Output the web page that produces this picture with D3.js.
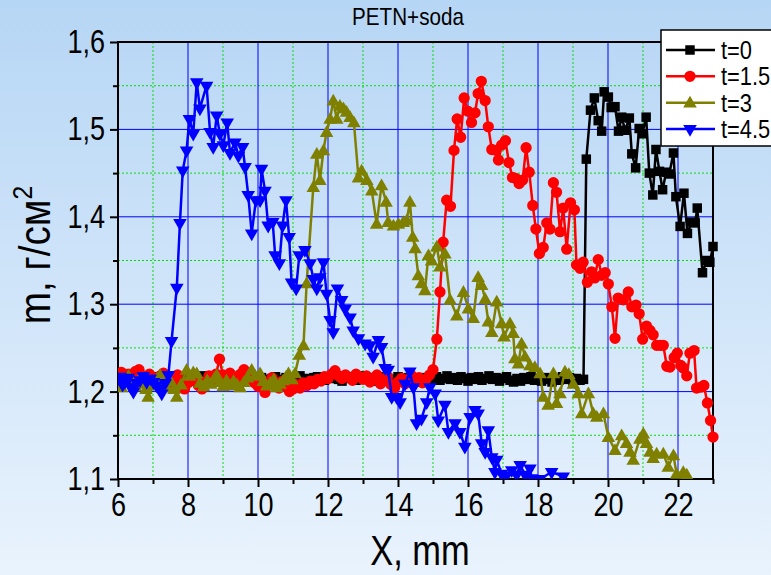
<!DOCTYPE html>
<html>
<head>
<meta charset="utf-8">
<script src="https://cdn.jsdelivr.net/npm/d3@7"></script>
<style>
  html, body { margin: 0; padding: 0; }
  svg { display: block; }
  text { font-family: "Liberation Sans", Arial, sans-serif; }
</style>
</head>
<body>
<svg id="chart" width="771" height="575"></svg>
<script>
// Density profiles m(X) for PETN+soda at successive times
const seriesNames = ["t=0", "t=1.5", "t=3", "t=4.5"];

const t0Points = [
  [6.0,1.215],[6.1,1.217],[6.2,1.213],[6.3,1.216],[6.4,1.214],[6.5,1.218],[6.6,1.215],[6.7,1.212],[6.8,1.216],[6.9,1.214],
  [7.0,1.217],[7.1,1.213],[7.2,1.215],[7.3,1.218],[7.4,1.214],[7.5,1.212],[7.6,1.216],[7.7,1.215],[7.8,1.213],[7.9,1.217],
  [8.0,1.214],[8.1,1.216],[8.2,1.212],[8.3,1.215],[8.4,1.218],[8.5,1.214],[8.6,1.213],[8.7,1.216],[8.8,1.215],[8.9,1.212],
  [9.0,1.216],[9.1,1.214],[9.2,1.217],[9.3,1.213],[9.4,1.215],[9.5,1.216],[9.6,1.212],[9.7,1.214],[9.8,1.217],[9.9,1.215],
  [10.0,1.213],[10.1,1.216],[10.2,1.214],[10.3,1.211],[10.4,1.215],[10.5,1.217],[10.6,1.214],[10.7,1.212],[10.8,1.216],[10.9,1.215],
  [11.0,1.213],[11.1,1.216],[11.2,1.218],[11.3,1.214],[11.4,1.215],[11.5,1.212],[11.6,1.216],[11.7,1.217],[11.8,1.214],[11.9,1.213],
  [12.0,1.216],[12.1,1.215],[12.2,1.218],[12.3,1.214],[12.4,1.212],[12.5,1.216],[12.6,1.215],[12.7,1.217],[12.8,1.213],[12.9,1.215],
  [13.0,1.218],[13.1,1.214],[13.2,1.216],[13.3,1.212],[13.4,1.215],[13.5,1.217],[13.6,1.214],[13.7,1.216],[13.8,1.211],[13.9,1.214],
  [14.0,1.217],[14.1,1.215],[14.2,1.212],[14.3,1.216],[14.4,1.214],[14.5,1.211],[14.6,1.215],[14.7,1.213],[14.8,1.216],[14.9,1.212],
  [15.0,1.214],[15.1,1.217],[15.2,1.213],[15.3,1.215],[15.4,1.218],[15.5,1.214],[15.6,1.216],[15.7,1.213],[15.8,1.217],[15.9,1.215],
  [16.0,1.212],[16.1,1.216],[16.2,1.214],[16.3,1.217],[16.4,1.213],[16.5,1.215],[16.6,1.218],[16.7,1.214],[16.8,1.216],[16.9,1.212],
  [17.0,1.215],[17.1,1.217],[17.2,1.213],[17.3,1.211],[17.4,1.215],[17.5,1.212],[17.6,1.216],[17.7,1.214],[17.8,1.217],[17.9,1.213],
  [18.0,1.215],[18.1,1.212],[18.2,1.216],[18.3,1.214],[18.4,1.211],[18.5,1.215],[18.6,1.213],[18.7,1.217],[18.8,1.214],[18.9,1.216],
  [19.0,1.212],[19.1,1.215],[19.2,1.213],[19.3,1.214],
  [19.38,1.466],[19.5,1.522],[19.61,1.536],[19.72,1.510],[19.82,1.498],[19.89,1.543],[20.01,1.537],[20.09,1.525],[20.2,1.526],
  [20.3,1.498],[20.39,1.514],[20.49,1.499],[20.61,1.513],[20.68,1.472],[20.79,1.456],[20.89,1.501],[20.98,1.495],[21.09,1.514],
  [21.18,1.450],[21.28,1.425],[21.37,1.477],[21.47,1.452],[21.56,1.431],[21.66,1.451],[21.75,1.449],[21.87,1.473],[21.94,1.423],
  [22.06,1.389],[22.17,1.427],[22.27,1.381],[22.39,1.394],[22.49,1.393],[22.55,1.410],[22.7,1.336],[22.82,1.350],[22.91,1.348],[23.0,1.366]
];

const t15Points = [
  [6.0,1.218],[6.1,1.222],[6.2,1.215],[6.3,1.220],[6.4,1.217],[6.5,1.223],[6.6,1.225],[6.7,1.218],[6.8,1.214],[6.9,1.220],
  [7.0,1.216],[7.1,1.212],[7.2,1.218],[7.3,1.221],[7.4,1.215],[7.5,1.210],[7.6,1.216],[7.7,1.219],[7.8,1.208],[7.9,1.203],
  [8.0,1.210],[8.1,1.216],[8.2,1.212],[8.3,1.207],[8.4,1.203],[8.5,1.211],[8.6,1.218],[8.7,1.214],[8.8,1.220],[8.9,1.237],
  [9.0,1.219],[9.1,1.215],[9.2,1.221],[9.3,1.217],[9.4,1.213],[9.5,1.220],[9.6,1.225],[9.7,1.219],[9.8,1.214],[9.9,1.210],
  [10.0,1.206],[10.1,1.213],[10.2,1.199],[10.3,1.208],[10.4,1.216],[10.5,1.210],[10.6,1.204],[10.7,1.212],[10.8,1.207],[10.9,1.200],
  [11.0,1.203],[11.1,1.208],[11.2,1.204],[11.3,1.210],[11.4,1.207],[11.5,1.212],[11.6,1.209],[11.7,1.214],[11.8,1.212],[11.9,1.217],
  [12.0,1.215],[12.1,1.220],[12.2,1.224],[12.3,1.218],[12.4,1.215],[12.5,1.219],[12.6,1.216],[12.7,1.213],[12.8,1.220],[12.9,1.217],
  [13.0,1.214],[13.1,1.218],[13.2,1.211],[13.3,1.215],[13.4,1.219],[13.5,1.209],[13.6,1.213],[13.7,1.217],[13.8,1.208],[13.9,1.204],
  [14.0,1.211],[14.1,1.215],[14.2,1.209],[14.3,1.214],[14.4,1.218],[14.5,1.212],[14.6,1.216],[14.7,1.210],[14.8,1.214],[14.9,1.219],
  [15.0,1.225],[15.11,1.260],[15.2,1.314],[15.29,1.371],[15.39,1.419],[15.5,1.412],[15.6,1.476],[15.69,1.512],[15.79,1.491],
  [15.89,1.536],[15.99,1.521],[16.1,1.508],[16.2,1.519],[16.29,1.541],[16.38,1.555],[16.49,1.533],[16.58,1.503],[16.68,1.477],
  [16.8,1.476],[16.87,1.465],[16.96,1.482],[17.07,1.487],[17.17,1.462],[17.27,1.445],[17.36,1.444],[17.46,1.438],[17.56,1.442],
  [17.66,1.479],[17.75,1.451],[17.85,1.413],[17.94,1.386],[18.04,1.358],[18.15,1.365],[18.25,1.393],[18.34,1.386],[18.44,1.439],
  [18.53,1.428],[18.63,1.383],[18.72,1.410],[18.82,1.363],[18.93,1.416],[19.04,1.408],[19.1,1.345],[19.2,1.341],[19.29,1.348],
  [19.41,1.325],[19.53,1.337],[19.62,1.330],[19.72,1.351],[19.82,1.333],[19.92,1.336],[20.01,1.323],[20.11,1.297],[20.2,1.261],
  [20.29,1.307],[20.44,1.305],[20.58,1.314],[20.68,1.297],[20.8,1.299],[20.89,1.289],[20.99,1.260],[21.1,1.275],[21.2,1.270],
  [21.29,1.265],[21.39,1.253],[21.49,1.253],[21.58,1.253],[21.68,1.229],[21.77,1.228],[21.89,1.239],[21.98,1.244],[22.08,1.230],
  [22.15,1.227],[22.25,1.218],[22.34,1.244],[22.46,1.247],[22.53,1.204],[22.65,1.205],[22.74,1.207],[22.84,1.187],[22.93,1.167],[23.0,1.148]
];

const t3Points = [
  [6.0,1.208],[6.1,1.205],[6.2,1.212],[6.3,1.218],[6.4,1.210],[6.5,1.206],[6.6,1.214],[6.7,1.209],[6.8,1.203],[6.86,1.194],
  [7.0,1.207],[7.1,1.214],[7.2,1.219],[7.3,1.211],[7.4,1.205],[7.5,1.212],[7.6,1.203],[7.68,1.194],[7.8,1.208],[7.96,1.225],
  [8.05,1.218],[8.15,1.222],[8.25,1.221],[8.34,1.210],[8.45,1.206],[8.55,1.213],[8.65,1.209],[8.75,1.215],[8.82,1.219],[8.92,1.211],
  [9.0,1.206],[9.1,1.213],[9.2,1.207],[9.3,1.212],[9.4,1.208],[9.49,1.205],[9.6,1.211],[9.7,1.216],[9.82,1.225],[9.92,1.218],
  [10.06,1.221],[10.15,1.212],[10.25,1.207],[10.35,1.210],[10.45,1.214],[10.53,1.205],[10.63,1.209],[10.72,1.213],[10.8,1.217],
  [10.87,1.221],[10.97,1.214],[11.06,1.221],[11.18,1.242],[11.3,1.253],[11.39,1.324],[11.58,1.434],[11.68,1.472],[11.77,1.442],
  [11.87,1.476],[11.96,1.497],[12.06,1.512],[12.15,1.533],[12.25,1.512],[12.34,1.527],[12.44,1.524],[12.53,1.520],[12.63,1.514],
  [12.74,1.508],[12.87,1.445],[12.96,1.453],[13.11,1.442],[13.25,1.430],[13.39,1.392],[13.53,1.436],[13.66,1.417],[13.72,1.394],
  [13.87,1.390],[14.01,1.392],[14.15,1.394],[14.25,1.396],[14.34,1.417],[14.42,1.377],[14.49,1.364],[14.58,1.333],[14.67,1.324],
  [14.77,1.316],[14.87,1.356],[14.96,1.350],[15.11,1.366],[15.2,1.343],[15.34,1.358],[15.49,1.305],[15.68,1.287],[15.87,1.314],
  [16.01,1.295],[16.15,1.284],[16.29,1.331],[16.39,1.322],[16.49,1.306],[16.58,1.280],[16.68,1.268],[16.82,1.303],[16.96,1.278],
  [17.03,1.263],[17.2,1.278],[17.29,1.267],[17.34,1.238],[17.44,1.232],[17.53,1.255],[17.63,1.240],[17.77,1.230],[17.91,1.228],
  [18.06,1.221],[18.15,1.194],[18.29,1.185],[18.44,1.221],[18.53,1.187],[18.63,1.198],[18.77,1.223],[18.88,1.220],[19.01,1.209],
  [19.15,1.198],[19.25,1.175],[19.44,1.198],[19.58,1.175],[19.68,1.171],[19.87,1.175],[20.01,1.148],[20.2,1.133],[20.39,1.150],
  [20.53,1.141],[20.63,1.131],[20.72,1.122],[20.91,1.146],[21.01,1.152],[21.1,1.141],[21.2,1.131],[21.29,1.124],[21.39,1.129],
  [21.58,1.129],[21.72,1.114],[21.87,1.127],[21.96,1.106],[22.15,1.108],[22.25,1.105]
];

const t45Points = [
  [6.0,1.215],[6.06,1.217],[6.13,1.208],[6.2,1.211],[6.3,1.216],[6.37,1.205],[6.44,1.200],[6.53,1.210],[6.63,1.213],[6.72,1.218],
  [6.82,1.211],[6.92,1.215],[7.01,1.211],[7.1,1.207],[7.18,1.203],[7.25,1.198],[7.35,1.210],[7.44,1.219],[7.53,1.258],[7.68,1.319],
  [7.77,1.393],[7.85,1.453],[7.96,1.476],[8.04,1.512],[8.15,1.495],[8.25,1.554],[8.34,1.524],[8.53,1.550],[8.63,1.497],[8.72,1.480],
  [8.82,1.516],[8.91,1.495],[9.01,1.482],[9.12,1.508],[9.2,1.473],[9.34,1.485],[9.44,1.470],[9.56,1.480],[9.63,1.457],[9.72,1.425],
  [9.82,1.381],[9.94,1.419],[10.06,1.419],[10.1,1.455],[10.2,1.430],[10.29,1.390],[10.42,1.394],[10.49,1.356],[10.61,1.347],[10.7,1.390],
  [10.8,1.419],[10.89,1.377],[10.96,1.325],[11.09,1.318],[11.18,1.356],[11.34,1.362],[11.49,1.347],[11.58,1.329],[11.68,1.318],[11.77,1.331],
  [11.87,1.348],[11.96,1.312],[12.06,1.282],[12.15,1.268],[12.27,1.318],[12.39,1.305],[12.49,1.295],[12.63,1.285],[12.72,1.270],[12.87,1.261],
  [13.06,1.255],[13.2,1.253],[13.29,1.240],[13.44,1.259],[13.53,1.251],[13.63,1.227],[13.72,1.225],[13.82,1.194],[13.96,1.194],[14.06,1.188],
  [14.2,1.209],[14.34,1.223],[14.44,1.205],[14.53,1.164],[14.67,1.169],[14.82,1.188],[14.91,1.205],[15.06,1.198],[15.15,1.167],[15.34,1.185],
  [15.44,1.154],[15.63,1.164],[15.77,1.154],[15.91,1.137],[16.06,1.171],[16.2,1.179],[16.29,1.175],[16.39,1.141],[16.49,1.131],[16.58,1.156],
  [16.68,1.125],[16.77,1.108],[16.82,1.122],[16.96,1.106],[17.1,1.104],[17.25,1.110],[17.39,1.105],[17.49,1.116],[17.63,1.105],[17.77,1.112],
  [17.82,1.101],[18.06,1.100],[18.39,1.108],[18.72,1.103]
];

const xTickValues = [6, 8, 10, 12, 14, 16, 18, 20, 22];
const yTickValues = [1.1, 1.2, 1.3, 1.4, 1.5, 1.6];
const xMinorValues = [7, 9, 11, 13, 15, 17, 19, 21, 23];
const yMinorValues = [1.15, 1.25, 1.35, 1.45, 1.55];

const seriesData = [t0Points, t15Points, t3Points, t45Points];
const seriesColors = ["#000000", "#ff0000", "#808000", "#0000ff"];
const seriesSymbols = ["square", "circle", "triUp", "triDown"];

const W = 771, H = 575;
const plotLeft = 118, plotRight = 713, plotTop = 42, plotBottom = 479;
const narrow = 0.82;   // horizontal squeeze giving a condensed sans face

const svg = d3.select("#chart");

// page background
const defs = svg.append("defs");
const grad = defs.append("linearGradient").attr("id", "bg").attr("x1", 0).attr("y1", 0).attr("x2", 0).attr("y2", 1);
grad.append("stop").attr("offset", "0%").attr("stop-color", "#b6d6f5");
grad.append("stop").attr("offset", "100%").attr("stop-color", "#e9f3fd");
svg.append("rect").attr("width", W).attr("height", H).attr("fill", "url(#bg)");

defs.append("clipPath").attr("id", "plotClip")
  .append("rect").attr("x", plotLeft).attr("y", plotTop - 8)
  .attr("width", plotRight - plotLeft + 8).attr("height", plotBottom - plotTop + 8);

const x = d3.scaleLinear().domain([6, 23]).range([plotLeft, plotRight]);
const y = d3.scaleLinear().domain([1.1, 1.6]).range([plotBottom, plotTop]);

// grid
const grid = svg.append("g");
grid.selectAll("line.xmin").data(xMinorValues).join("line")
  .attr("x1", d => x(d)).attr("x2", d => x(d)).attr("y1", plotTop).attr("y2", plotBottom)
  .attr("stroke", "#00e000").attr("stroke-width", 1).attr("stroke-dasharray", "2,2");
grid.selectAll("line.ymin").data(yMinorValues).join("line")
  .attr("x1", plotLeft).attr("x2", plotRight).attr("y1", d => y(d)).attr("y2", d => y(d))
  .attr("stroke", "#00e000").attr("stroke-width", 1).attr("stroke-dasharray", "2,2");
grid.selectAll("line.xmaj").data(xTickValues).join("line")
  .attr("x1", d => x(d)).attr("x2", d => x(d)).attr("y1", plotTop).attr("y2", plotBottom)
  .attr("stroke", "#0000ff").attr("stroke-width", 1);
grid.selectAll("line.ymaj").data(yTickValues).join("line")
  .attr("x1", plotLeft).attr("x2", plotRight).attr("y1", d => y(d)).attr("y2", d => y(d))
  .attr("stroke", "#0000ff").attr("stroke-width", 1);

// axes
const fmt = d => d3.format(".1f")(d).replace(".", ",");
const yAxis = d3.axisLeft(y).tickValues(yTickValues).tickFormat(fmt).tickSize(8).tickPadding(4);
const yAxisMinor = d3.axisLeft(y).tickValues(yMinorValues).tickFormat("").tickSize(5);
const xAxis = d3.axisBottom(x).tickValues(xTickValues).tickFormat(d3.format("d")).tickSize(8).tickPadding(6);
const xAxisMinor = d3.axisBottom(x).tickValues(xMinorValues).tickFormat("").tickSize(5);

function styleAxis(g) {
  g.select(".domain").remove();
  g.selectAll(".tick line").attr("stroke", "#000").attr("stroke-width", 2);
  g.selectAll(".tick text").attr("fill", "#000").attr("font-size", 33);
}
svg.append("g").attr("transform", `translate(${plotLeft},0)`).call(yAxisMinor).call(styleAxis);
svg.append("g").attr("transform", `translate(${plotLeft},0)`).call(yAxis).call(styleAxis)
  .selectAll(".tick text").attr("x", 0).attr("transform", `translate(-13,0) scale(${narrow},1)`);
svg.append("g").attr("transform", `translate(0,${plotBottom})`).call(xAxisMinor).call(styleAxis);
svg.append("g").attr("transform", `translate(0,${plotBottom})`).call(xAxis).call(styleAxis)
  .selectAll(".tick text").attr("transform", `scale(${narrow},1)`);

// frame
svg.append("rect").attr("x", plotLeft).attr("y", plotTop)
  .attr("width", plotRight - plotLeft).attr("height", plotBottom - plotTop)
  .attr("fill", "none").attr("stroke", "#000").attr("stroke-width", 2);

// series
const symbolFor = {
  square: d3.symbol(d3.symbolSquare, 90),
  circle: d3.symbol(d3.symbolCircle, 100),
  triUp: d3.symbol(d3.symbolTriangle, 80),
  triDown: d3.symbol(d3.symbolTriangle, 80)
};
const symTransform = (sym, px, py) =>
  `translate(${px},${py})` + (sym === "triDown" ? " rotate(180)" : (sym === "triUp" ? " translate(0,1)" : ""));
const line = d3.line().x(d => x(d[0])).y(d => y(d[1]));
const plot = svg.append("g").attr("clip-path", "url(#plotClip)");

seriesData.forEach((pts, i) => {
  const g = plot.append("g");
  g.append("path").datum(pts).attr("d", line)
    .attr("fill", "none").attr("stroke", seriesColors[i]).attr("stroke-width", 2.5).attr("stroke-linejoin", "round");
  const sym = seriesSymbols[i];
  g.selectAll("path.m").data(pts).join("path").attr("class", "m")
    .attr("d", symbolFor[sym]())
    .attr("transform", d => symTransform(sym, x(d[0]), y(d[1])))
    .attr("fill", seriesColors[i]);
});

// legend
const lg = svg.append("g");
lg.append("rect").attr("x", 661).attr("y", 30).attr("width", 130).attr("height", 116)
  .attr("fill", "#fff").attr("stroke", "#000").attr("stroke-width", 1.5);
const legendY = d3.scalePoint().domain(seriesNames).range([50, 129]);
seriesNames.forEach((name, i) => {
  const ly = legendY(name);
  lg.append("line").attr("x1", 666).attr("x2", 715).attr("y1", ly).attr("y2", ly)
    .attr("stroke", seriesColors[i]).attr("stroke-width", 2.5);
  const sym = seriesSymbols[i];
  lg.append("path").attr("d", symbolFor[sym]())
    .attr("transform", symTransform(sym, 690, ly))
    .attr("fill", seriesColors[i]);
  lg.append("text").attr("transform", `translate(721,${ly + 9}) scale(0.84,1)`)
    .attr("font-size", 26).attr("fill", "#000").text(name);
});

// titles
svg.append("text").attr("transform", `translate(408,25) scale(0.86,1)`).attr("text-anchor", "middle")
  .attr("font-size", 24).attr("fill", "#000").text("PETN+soda");

svg.append("text").attr("transform", `translate(420,565) scale(${narrow},1)`).attr("text-anchor", "middle")
  .attr("font-size", 42).attr("fill", "#000").text("X, mm");

const yl = svg.append("text").attr("transform", "translate(50,255) rotate(-90) scale(0.88,1)")
  .attr("text-anchor", "middle").attr("font-size", 44).attr("fill", "#000");
yl.append("tspan").text("m, г/см");
yl.append("tspan").attr("font-size", 28).attr("dy", -18).text("2");
</script>
</body>
</html>
